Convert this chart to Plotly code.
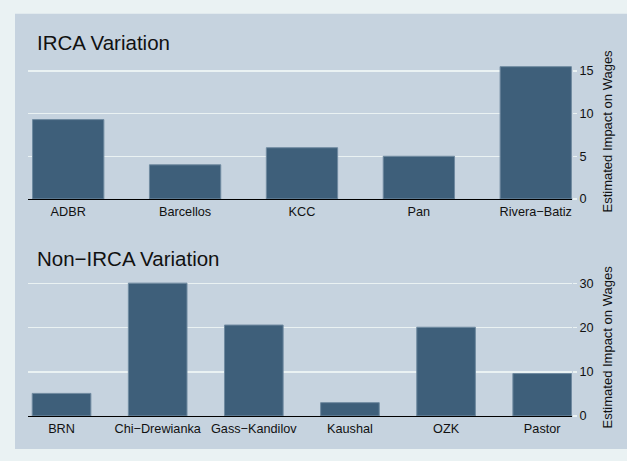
import plotly.graph_objects as go

# ---- data ----
irca_studies = ["ADBR", "Barcellos", "KCC", "Pan", "Rivera−Batiz"]
irca_impact = [9.3, 4.0, 6.0, 5.0, 15.5]

nonirca_studies = ["BRN", "Chi−Drewianka", "Gass−Kandilov", "Kaushal", "OZK", "Pastor"]
nonirca_impact = [5.1, 30.1, 20.6, 3.0, 20.1, 9.6]

top_title = "IRCA Variation"
bottom_title = "Non−IRCA Variation"
ytitle = "Estimated Impact on Wages"
top_ticks = [0, 5, 10, 15]
bottom_ticks = [0, 10, 20, 30]

# ---- style ----
W, H = 627, 461
FONT = "Liberation Sans, Arial, Helvetica, sans-serif"
OUTER = "#eaf2f3"
PANEL = "#c6d3df"
BAR = "#3e5f7a"
BAR_EDGE = "#6f8aa0"
GRID = "#eaf2f3"

def px_x(p):
    return p / W

def px_y(p):
    return (H - p) / H

fig = go.Figure()

fig.add_trace(go.Bar(
    x=list(range(len(irca_studies))), y=irca_impact, width=0.61,
    marker=dict(color=BAR, line=dict(color=BAR_EDGE, width=1)),
    xaxis="x", yaxis="y", showlegend=False, hoverinfo="skip"))

fig.add_trace(go.Bar(
    x=list(range(len(nonirca_studies))), y=nonirca_impact, width=0.61,
    marker=dict(color=BAR, line=dict(color=BAR_EDGE, width=1)),
    xaxis="x2", yaxis="y2", showlegend=False, hoverinfo="skip"))

xdom = [px_x(28), px_x(572)]

common_x = dict(
    domain=xdom, showgrid=False, zeroline=False, showline=True,
    linecolor="black", linewidth=1.5, ticks="", fixedrange=True,
    tickfont=dict(family=FONT, size=12.7, color="#111111"),
)
common_y = dict(
    side="right", showgrid=True, gridcolor=GRID, gridwidth=1.5,
    zeroline=False, showline=False, ticks="outside", ticklen=4,
    tickcolor=GRID, tickwidth=1.5, fixedrange=True,
    tickfont=dict(family=FONT, size=12.7, color="#111111"),
)

fig.update_layout(
    width=W, height=H,
    margin=dict(l=0, r=0, t=0, b=0),
    paper_bgcolor=OUTER, plot_bgcolor="rgba(0,0,0,0)",
    bargap=0,
    xaxis=dict(common_x, anchor="y", range=[-0.344, 4.31],
               tickvals=list(range(len(irca_studies))), ticktext=irca_studies),
    yaxis=dict(common_y, anchor="x", range=[0, 17],
               domain=[px_y(202), px_y(54.7)], tickvals=top_ticks),
    xaxis2=dict(common_x, anchor="y2", range=[-0.349, 5.31],
                tickvals=list(range(len(nonirca_studies))), ticktext=nonirca_studies),
    yaxis2=dict(common_y, anchor="x2", range=[0, 32],
                domain=[px_y(422.3), px_y(279)], tickvals=bottom_ticks),
    shapes=[dict(type="rect", xref="paper", yref="paper",
                 x0=px_x(15), x1=1.0, y0=px_y(456), y1=px_y(14),
                 fillcolor=PANEL, line=dict(width=0), layer="below")],
    annotations=[
        dict(text=top_title, xref="paper", yref="paper", x=px_x(35), y=px_y(43),
             xanchor="left", yanchor="middle", showarrow=False,
             font=dict(family=FONT, size=20.5, color="#111111")),
        dict(text=bottom_title, xref="paper", yref="paper", x=px_x(35), y=px_y(262),
             xanchor="left", yanchor="middle", showarrow=False,
             font=dict(family=FONT, size=20.5, color="#111111")),
        dict(text=ytitle, xref="paper", yref="paper", x=px_x(607), y=px_y(133.5),
             xanchor="center", yanchor="middle", textangle=-90, showarrow=False,
             font=dict(family=FONT, size=13, color="#111111")),
        dict(text=ytitle, xref="paper", yref="paper", x=px_x(607), y=px_y(352.8),
             xanchor="center", yanchor="middle", textangle=-90, showarrow=False,
             font=dict(family=FONT, size=13, color="#111111")),
    ],
)

fig.write_html("out.html",
               config={"displayModeBar": False, "staticPlot": True},
               post_script="document.body.style.margin='0';document.body.style.overflow='hidden';document.body.style.background='#eaf2f3';")
